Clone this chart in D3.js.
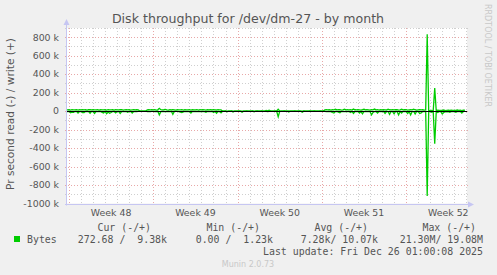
<!DOCTYPE html>
<html>
<head>
<meta charset="utf-8">
<script src="https://cdn.jsdelivr.net/npm/d3@7"></script>
<style>
  html, body { margin: 0; padding: 0; background: #f0f0f0; }
  svg { display: block; }
  text { font-family: "DejaVu Sans", sans-serif; }
  .mono { font-family: "DejaVu Sans Mono", monospace; white-space: pre; }
</style>
</head>
<body>
<div id="chart"></div>
<script>
// Bytes per second, in k, one sample every 3 hours from Nov 23 18:00 (one row per day)
var writeK = [
    13, 14,
    15, 12, 16, 14, 13, 17, 12, 15,
    14, 16, 13, 15, 12, 15, 17, 13,
    16, 13, 14, 15, 12, 15, 14, 13,
    15, 12, 16, 14, 13, 15, 12, 16,
    14, 13, 15, 17, 12, 14, 16, 13,
    15, 12, 14, 16, 13, 15, 14, 1,
    1, 0.5, 1, 1, 13, 15, 14, 16,
    13, 15, 12, 14, 30, 16, 13, 15,
    18, 14, 12, 15, 13, 16, 14, 12,
    15, 13, 14, 16, 12, 15, 13, 14,
    16, 12, 15, 13, 14, 17, 12, 15,
    13, 16, 14, 12, 15, 13, 16, 14,
    15, 13, 12, 16, 14, 13, 1, 1,
    2, 1, 1, 1, 2, 1, 1, 1,
    1, 2, 1, 1, 1, 1, 2, 1,
    1, 1, 2, 1, 1, 2, 1, 1,
    2, 1, 1, 8, 2, 10, 1, 1,
    1, 2, 1, 20, 3, 1, 1, 2,
    1, 1, 2, 1, 1, 1, 2, 1,
    1, 2, 1, 1, 2, 1, 1, 1,
    2, 1, 1, 2, 1, 1, 1, 2,
    1, 2, 13, 15, 14, 16, 12, 15,
    14, 20, 13, 15, 16, 12, 14, 21,
    13, 15, 14, 16, 12, 22, 15, 13,
    16, 14, 12, 15, 20, 13, 16, 14,
    12, 15, 14, 22, 13, 16, 12, 15,
    14, 16, 13, 12, 21, 15, 14, 16,
    13, 15, 16, 12, 14, 20, 13, 15,
    16, 12, 14, 15, 13, 21, 15, 12,
    14, 16, 13, 15, 12, 14, 832, 3,
    6, 8, 4, 249, 5, 10, 7, 9,
    8, 12, 6, 9, 11, 7, 10, 8,
    9, 7, 12, 8, 10, 6, 11, 9.38
];
var readK = [
    3, 5,
    2, 18, 12, 12, 4, 3, 20, 5,
    3, 15, 15, 4, 2, 5, 22, 3,
    4, 25, 3, 5, 2, 4, 14, 20,
    3, 28, 10, 22, 15, 4, 3, 18,
    5, 3, 25, 4, 2, 6, 3, 12,
    4, 3, 20, 5, 3, 4, 2, 1,
    1, 1, 1, 1, 4, 3, 5, 2,
    3, 5, 4, 2, 40, 6, 3, 4,
    5, 3, 4, 6, 2, 35, 4, 3,
    2, 5, 10, 15, 8, 3, 4, 2,
    5, 20, 3, 4, 2, 6, 3, 5,
    4, 2, 5, 12, 3, 4, 6, 2,
    15, 3, 22, 4, 5, 18, 1, 1,
    1, 8, 1, 1, 1, 10, 1, 1,
    1, 1, 1, 12, 1, 1, 1, 1,
    1, 1, 1, 8, 1, 1, 1, 1,
    1, 1, 1, 2, 6, 3, 1, 1,
    1, 1, 2, 62, 2, 1, 1, 1,
    1, 1, 10, 1, 1, 1, 1, 1,
    1, 1, 1, 12, 1, 1, 1, 1,
    1, 1, 1, 1, 1, 1, 1, 1,
    1, 1, 3, 5, 4, 2, 6, 15,
    20, 4, 3, 12, 18, 5, 3, 4,
    2, 5, 4, 15, 3, 25, 4, 6,
    3, 20, 5, 30, 4, 2, 6, 3,
    5, 40, 15, 3, 4, 20, 5, 3,
    4, 2, 25, 5, 3, 35, 4, 6,
    30, 4, 3, 40, 5, 20, 3, 4,
    6, 25, 4, 40, 5, 3, 30, 4,
    3, 25, 20, 4, 5, 3, 919, 2,
    5, 12, 4, 354, 8, 15, 4, 6,
    30, 15, 5, 8, 4, 12, 6, 5,
    4, 12, 6, 3, 5, 20, 4, 0.27
];
var yTicks = [-1000, -800, -600, -400, -200, 0, 200, 400, 600, 800];
var legendHeads = ["Cur (-/+)", "Min (-/+)", "Avg (-/+)", "Max (-/+)"];
var legendValues = ["272.68 /  9.38k", "0.00 /  1.23k", "7.28k/ 10.07k", "21.30M/ 19.08M"];

(function () {
    var W = 497, H = 275;
    var pLeft = 67, pRight = 467, pTop = 28, pBottom = 203.5;
    var tStart = new Date(2025, 10, 23, 20), tEnd = new Date(2025, 11, 27, 1, 20);
    var firstSample = new Date(2025, 10, 23, 18);
    var times = d3.timeHour.every(3).range(firstSample, new Date(2025, 11, 27, 0)).slice(0, writeK.length);

    var x = d3.scaleTime().domain([tStart, tEnd]).range([pLeft, pRight]);
    var y = d3.scaleLinear().domain([-1000, 900]).range([pBottom, pTop]);

    var svg = d3.select("#chart").append("svg")
        .attr("width", W).attr("height", H);

    svg.append("rect").attr("width", W).attr("height", H).attr("fill", "#f0f0f0");
    svg.append("rect")
        .attr("x", pLeft).attr("y", pTop)
        .attr("width", pRight - pLeft).attr("height", pBottom - pTop)
        .attr("fill", "#ffffff");

    var px = v => Math.round(v) + 0.5;

    // grille horizontale
    var grid = svg.append("g").attr("shape-rendering", "crispEdges");
    grid.selectAll(".hgrid")
        .data(d3.range(-1000, 901, 100))
        .enter().append("line")
        .attr("x1", pLeft - 2).attr("x2", pRight + 2)
        .attr("y1", d => px(y(d))).attr("y2", d => px(y(d)))
        .attr("stroke", d => d % 200 === 0 ? "#e8a8a8" : "#cfcfcf")
        .attr("stroke-dasharray", "1,2");

    // grille verticale (jours / semaines)
    grid.selectAll(".vgrid")
        .data(d3.timeDay.range(tStart, tEnd))
        .enter().append("line")
        .attr("x1", d => px(x(d))).attr("x2", d => px(x(d)))
        .attr("y1", pTop).attr("y2", pBottom + 2)
        .attr("stroke", d => d.getDay() === 1 ? "#e8a8a8" : "#cfcfcf")
        .attr("stroke-dasharray", "1,2");

    // séries (lecture en négatif, écriture en positif)
    svg.append("clipPath").attr("id", "plotclip")
        .append("rect").attr("x", pLeft).attr("y", pTop)
        .attr("width", pRight - pLeft).attr("height", pBottom - pTop);

    var line = d3.line().x((d, i) => x(times[i])).y(d => y(d));
    var series = svg.append("g").attr("clip-path", "url(#plotclip)");
    series.append("path")
        .attr("d", line(readK.map(v => -v)))
        .attr("fill", "none").attr("stroke", "#00cc00").attr("stroke-width", 1.3);
    series.append("path")
        .attr("d", line(writeK))
        .attr("fill", "none").attr("stroke", "#00cc00").attr("stroke-width", 1.3);

    // ligne du zéro
    svg.append("line")
        .attr("x1", pLeft).attr("x2", pRight)
        .attr("y1", px(y(0))).attr("y2", px(y(0)))
        .attr("stroke", "#000").attr("shape-rendering", "crispEdges");

    // axes avec flèches
    var axisColor = "#c6c6f2";
    svg.append("line")
        .attr("x1", pLeft - 0.5).attr("x2", pLeft - 0.5)
        .attr("y1", pBottom + 2).attr("y2", 24)
        .attr("stroke", axisColor);
    svg.append("path")
        .attr("d", `M${pLeft - 3.5},25 L${pLeft - 0.5},19 L${pLeft + 2.5},25 Z`)
        .attr("fill", axisColor);
    svg.append("line")
        .attr("x1", pLeft - 2).attr("x2", pRight + 2)
        .attr("y1", px(pBottom)).attr("y2", px(pBottom))
        .attr("stroke", axisColor);
    svg.append("path")
        .attr("d", `M${pRight + 1},${px(pBottom) - 3} L${pRight + 7},${px(pBottom)} L${pRight + 1},${px(pBottom) + 3} Z`)
        .attr("fill", axisColor);

    // labels de l'axe Y
    svg.selectAll(".ylabel")
        .data(yTicks)
        .enter().append("text")
        .attr("x", 59)
        .attr("y", d => y(d))
        .attr("dy", "0.35em")
        .attr("text-anchor", "end")
        .style("font-size", "9.4px")
        .attr("fill", "#555")
        .text(d => d === 0 ? "0" : d + " k");

    // labels des semaines, centrés au milieu de chaque semaine
    var weekFmt = d3.timeFormat("%V");
    var weekCenters = d3.timeMonday.range(d3.timeMonday.offset(tStart, -1), tEnd)
        .map(d => d3.timeHour.offset(d, 84))
        .filter(d => d > tStart && d < tEnd);
    svg.selectAll(".xlabel")
        .data(weekCenters)
        .enter().append("text")
        .attr("x", d => x(d))
        .attr("y", 216)
        .attr("text-anchor", "middle")
        .style("font-size", "9.4px")
        .attr("fill", "#555")
        .text(d => "Week " + weekFmt(d3.timeHour.offset(d, -84)));

    // titres
    svg.append("text")
        .attr("x", 248).attr("y", 23)
        .attr("text-anchor", "middle")
        .style("font-size", "12.6px")
        .attr("fill", "#555")
        .text("Disk throughput for /dev/dm-27 - by month");

    svg.append("text")
        .attr("transform", "translate(14,114) rotate(-90)")
        .attr("text-anchor", "middle")
        .style("font-size", "10.6px")
        .attr("fill", "#555")
        .text("Pr second read (-) / write (+)");

    svg.append("text")
        .attr("transform", "translate(485,4) rotate(90)")
        .attr("text-anchor", "start")
        .style("font-size", "8px")
        .attr("fill", "#c8c8c8")
        .text("RRDTOOL / TOBI OETIKER");

    // légende
    var headRight = [151, 260, 368, 476];
    var valRight = [167, 273, 378, 483];
    svg.selectAll(".lhead")
        .data(legendHeads)
        .enter().append("text")
        .attr("class", "mono")
        .attr("x", (d, i) => headRight[i]).attr("y", 231)
        .attr("text-anchor", "end")
        .style("font-size", "9.9px")
        .attr("fill", "#555")
        .text(d => d);

    svg.append("rect")
        .attr("x", 14).attr("y", 236).attr("width", 6).attr("height", 6)
        .attr("fill", "#00cc00");
    svg.append("text")
        .attr("class", "mono")
        .attr("x", 27).attr("y", 243)
        .style("font-size", "9.9px")
        .attr("fill", "#555")
        .text("Bytes");
    svg.selectAll(".lval")
        .data(legendValues)
        .enter().append("text")
        .attr("class", "mono")
        .attr("x", (d, i) => valRight[i]).attr("y", 243)
        .attr("text-anchor", "end")
        .style("font-size", "9.9px")
        .attr("fill", "#555")
        .text(d => d);

    svg.append("text")
        .attr("class", "mono")
        .attr("x", 483).attr("y", 255)
        .attr("text-anchor", "end")
        .style("font-size", "9.9px")
        .attr("fill", "#555")
        .text("Last update: Fri Dec 26 01:00:08 2025");

    svg.append("text")
        .attr("x", 248).attr("y", 267)
        .attr("text-anchor", "middle")
        .style("font-size", "8px")
        .attr("fill", "#c8c8c8")
        .text("Munin 2.0.73");
})();
</script>
</body>
</html>
